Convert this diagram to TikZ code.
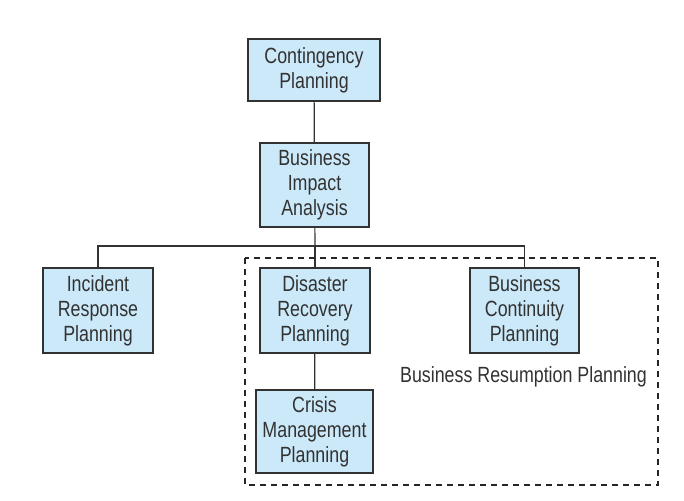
\documentclass[tikz,border=0pt]{standalone}
\usepackage{fontspec}
\setmainfont[FakeStretch=0.81]{Liberation Sans}
\definecolor{boxblue}{RGB}{204,233,249}
\definecolor{ink}{RGB}{50,50,50}
\tikzset{
  plan/.style={draw=ink, line width=1.2pt, fill=boxblue, text=ink, align=center,
    inner sep=0pt, font=\fontsize{22}{25}\selectfont},
  link/.style={draw=ink, line width=1.2pt},
}
\begin{document}
\begin{tikzpicture}[x=1pt,y=-1pt]
\useasboundingbox (0,0) rectangle (684,500);
% boxes
\begin{scope}
\node[plan, minimum width=132pt, minimum height=62pt] (cp) at (314,70) {Contingency\\Planning};
\node[plan, minimum width=109pt, minimum height=84pt] (bia) at (314.5,185) {Business\\Impact\\Analysis};
\node[plan, minimum width=110pt, minimum height=85pt] (irp) at (98,310.5) {Incident\\Response\\Planning};
\node[plan, minimum width=110pt, minimum height=85pt] (drp) at (315,310.5) {Disaster\\Recovery\\Planning};
\node[plan, minimum width=109pt, minimum height=85pt] (bcp) at (524.5,310.5) {Business\\Continuity\\Planning};
\node[plan, minimum width=117pt, minimum height=83pt] (cmp) at (314.5,431.5) {Crisis\\Management\\Planning};
\end{scope}
% connectors
\coordinate (split) at (315,246);
\draw[link] (cp) -- (bia);
\draw[link] (bia) -- (split);
\draw[link] (irp.north) |- (split) -| (bcp.north);
\draw[link] (split) -- (drp);
\draw[link] (drp) -- (cmp);
% business resumption group
\draw[black!85, line width=1.6pt, dash pattern=on 6pt off 5pt] (245,258) rectangle (658,485);
\node[anchor=base, text=ink, font=\fontsize{22}{25}\selectfont, inner sep=0pt] (brp) at (523.5,382) {Business Resumption Planning};
\end{tikzpicture}
\end{document}
